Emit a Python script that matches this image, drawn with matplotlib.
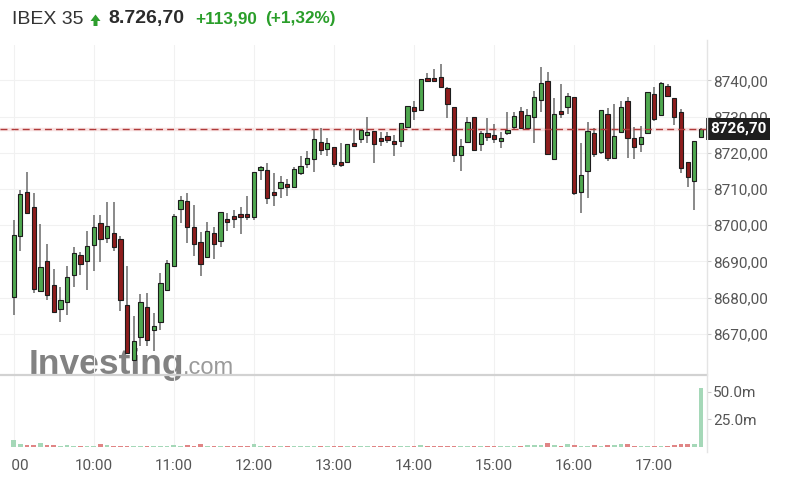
import numpy as np
import matplotlib.pyplot as plt
from matplotlib.lines import Line2D
from matplotlib.patches import Rectangle, Polygon
from matplotlib.transforms import Bbox, TransformedBbox

# IBEX 35 intraday, 5-minute candles 9:00 - 17:35
opens = [8680.1, 8696.9, 8709.1, 8705.0, 8681.9, 8690.1, 8683.6, 8676.9, 8678.7, 8686.1,
         8691.8, 8690.2, 8694.5, 8700.5, 8696.6, 8697.8, 8696.1, 8678.0, 8662.8, 8669.0,
         8677.3, 8671.1, 8673.2, 8682.1, 8688.8, 8704.5, 8706.8, 8699.4, 8695.3, 8691.1,
         8697.8, 8695.5, 8701.6, 8702.6, 8703.2, 8703.2, 8702.4, 8715.2, 8715.3, 8709.3,
         8710.4, 8711.4, 8710.5, 8714.4, 8717.0, 8718.2, 8723.1, 8721.1, 8721.5, 8717.4,
         8717.6, 8722.6, 8723.8, 8724.8, 8725.9, 8724.0, 8724.7, 8723.3, 8723.3, 8727.2,
         8732.6, 8731.8, 8740.6, 8740.6, 8740.9, 8738.0, 8732.6, 8719.4, 8722.9, 8729.8,
         8722.5, 8725.6, 8724.8, 8723.3, 8725.6, 8727.1, 8731.6, 8726.8, 8730.0, 8734.6,
         8739.9, 8718.3, 8731.6, 8732.6, 8735.3, 8709.3, 8715.0, 8725.4, 8720.3, 8730.7,
         8718.7, 8725.7, 8734.3, 8724.0, 8722.4, 8725.4, 8736.2, 8730.5, 8738.6, 8735.1,
         8731.2, 8717.4, 8712.2, 8724.3]
highs = [8701.5, 8709.8, 8714.8, 8709.0, 8700.4, 8694.8, 8687.9, 8682.8, 8688.6, 8694.1,
         8692.7, 8698.4, 8702.9, 8702.9, 8706.3, 8706.3, 8696.9, 8688.6, 8674.9, 8681.0,
         8681.4, 8675.7, 8686.7, 8690.4, 8703.1, 8708.1, 8709.0, 8705.6, 8698.2, 8701.0,
         8699.6, 8703.7, 8703.3, 8704.2, 8704.9, 8708.2, 8714.6, 8716.4, 8717.3, 8714.5,
         8713.6, 8712.7, 8716.2, 8719.2, 8720.6, 8726.5, 8726.8, 8724.0, 8721.5, 8722.6,
         8722.4, 8726.5, 8726.6, 8730.0, 8725.9, 8725.7, 8725.7, 8724.9, 8728.2, 8732.9,
         8734.4, 8740.3, 8742.0, 8743.2, 8744.5, 8738.1, 8732.6, 8723.7, 8729.8, 8729.8,
         8726.0, 8729.7, 8727.9, 8725.7, 8731.4, 8731.4, 8732.6, 8732.0, 8737.2, 8743.6,
         8742.4, 8735.1, 8739.0, 8736.6, 8735.3, 8722.8, 8728.4, 8727.0, 8731.7, 8732.5,
         8733.4, 8734.4, 8735.5, 8727.2, 8727.5, 8736.7, 8738.3, 8739.7, 8738.9, 8735.1,
         8732.1, 8717.4, 8723.3, 8726.8]
lows = [8675.2, 8693.0, 8703.3, 8681.2, 8681.9, 8679.4, 8676.1, 8673.2, 8675.2, 8683.0,
        8686.3, 8682.1, 8687.4, 8689.7, 8695.0, 8693.0, 8676.4, 8664.6, 8662.8, 8666.5,
        8666.7, 8665.1, 8671.1, 8682.1, 8688.4, 8700.5, 8695.0, 8691.6, 8686.0, 8691.1,
        8690.6, 8694.1, 8698.5, 8699.2, 8697.5, 8701.4, 8701.4, 8712.5, 8705.8, 8705.4,
        8707.5, 8708.1, 8710.5, 8713.9, 8715.7, 8714.6, 8719.4, 8719.2, 8716.2, 8716.0,
        8717.6, 8721.7, 8722.6, 8722.6, 8717.1, 8722.0, 8722.6, 8719.2, 8721.7, 8727.2,
        8729.1, 8731.8, 8739.5, 8739.7, 8738.1, 8729.5, 8717.4, 8715.1, 8722.9, 8720.8,
        8720.5, 8723.3, 8722.8, 8721.4, 8724.9, 8726.6, 8726.6, 8726.3, 8722.6, 8731.4,
        8719.6, 8718.3, 8729.5, 8730.7, 8708.4, 8703.3, 8707.4, 8718.8, 8719.6, 8717.8,
        8718.7, 8725.7, 8718.5, 8718.3, 8720.3, 8725.4, 8728.9, 8730.5, 8735.5, 8727.7,
        8714.5, 8710.5, 8704.2, 8724.3]
closes = [8697.3, 8708.6, 8703.5, 8682.4, 8688.4, 8680.6, 8676.1, 8679.4, 8685.6, 8692.3,
          8689.3, 8694.3, 8699.4, 8696.2, 8699.8, 8693.9, 8679.2, 8664.6, 8668.0, 8678.7,
          8668.3, 8672.2, 8684.0, 8689.5, 8702.6, 8707.0, 8699.4, 8694.8, 8689.3, 8698.5,
          8694.8, 8703.7, 8700.8, 8701.7, 8702.4, 8702.4, 8714.6, 8716.0, 8707.6, 8708.4,
          8712.0, 8710.5, 8715.5, 8716.4, 8718.5, 8723.8, 8720.8, 8722.6, 8716.9, 8716.5,
          8722.4, 8721.9, 8726.3, 8725.7, 8722.5, 8723.3, 8723.6, 8722.4, 8728.2, 8732.9,
          8731.6, 8740.3, 8739.8, 8739.8, 8738.1, 8733.4, 8719.4, 8721.8, 8728.4, 8720.8,
          8725.6, 8724.5, 8723.8, 8724.0, 8726.3, 8730.2, 8727.0, 8730.5, 8735.5, 8739.2,
          8719.6, 8730.7, 8730.7, 8735.7, 8708.8, 8713.9, 8726.0, 8719.6, 8731.7, 8718.7,
          8724.7, 8732.6, 8724.2, 8721.7, 8724.3, 8736.7, 8729.4, 8739.2, 8735.7, 8729.8,
          8715.9, 8713.2, 8723.3, 8726.7]
volumes = [6.5, 3.0, 2.0, 2.0, 3.5, 2.0, 1.5, 1.2, 1.5, 1.0,
           0.8, 1.0, 1.0, 2.5, 2.0, 1.0, 0.8, 1.0, 0.8, 0.8,
           0.6, 0.6, 0.8, 1.0, 2.0, 1.2, 1.5, 1.2, 2.5, 0.8,
           0.8, 0.8, 0.6, 0.6, 0.5, 0.6, 3.0, 0.8, 0.8, 0.8,
           0.8, 0.8, 0.8, 0.8, 0.8, 1.0, 0.8, 0.6, 0.6, 0.5,
           0.6, 0.6, 0.6, 0.5, 0.6, 0.5, 0.5, 0.5, 0.6, 0.8,
           0.6, 1.5, 0.6, 0.6, 0.8, 0.8, 1.0, 0.8, 0.6, 0.6,
           0.6, 0.5, 0.6, 0.6, 0.6, 0.8, 1.0, 1.5, 2.0, 2.0,
           3.5, 2.0, 1.0, 2.5, 1.5, 0.8, 1.0, 1.5, 1.0, 1.8,
           1.5, 2.5, 2.5, 1.0, 1.0, 1.0, 0.8, 1.0, 1.0, 2.0,
           2.5, 2.5, 2.5, 53.0]
hour_labels = ["9:00", "10:00", "11:00", "12:00", "13:00", "14:00", "15:00", "16:00", "17:00"]
price_ticks = [8670, 8680, 8690, 8700, 8710, 8720, 8730, 8740]
vol_ticks = [25, 50]
last_price = 8726.70

W, H = 787, 497
fig = plt.figure(figsize=(W / 100, H / 100), dpi=100)

def fx(px):
    return px / W

def fy(py):
    return 1 - py / H

GREEN = '#4fa84f'
RED = '#8e1d1d'
EDGE = '#1c1c1c'
WICK = '#6a6a6a'
LABEL = '#555555'
AXFONT = ['Roboto', 'DejaVu Sans']

# --- watermark (behind the axes) ---
fig.text(fx(29), fy(374), "Investing", fontsize=25.5, fontweight='bold', color='#828282',
         family=['Liberation Sans', 'DejaVu Sans'], va='baseline', zorder=-5)
fig.text(fx(183), fy(374), ".com", fontsize=17, color='#9a9a9a',
         family=['Liberation Sans', 'DejaVu Sans'], va='baseline', zorder=-5)

# --- price panel ---
ax = fig.add_axes([0, fy(375), fx(707), (375 - 45) / H])
ax.patch.set_visible(False)
x = np.arange(len(opens))
o = np.array(opens); c = np.array(closes)
hi = np.array(highs); lo = np.array(lows)
up = c >= o
cols = np.where(up, GREEN, RED)

ax.vlines(x, lo, hi, color=WICK, lw=1.1, zorder=2)
body_bot = np.minimum(o, c)
body_h = np.maximum(np.abs(c - o), 0.7)
ax.bar(x, body_h, bottom=body_bot, width=0.64, color=cols, edgecolor=EDGE,
       linewidth=0.8, zorder=3)

ax.axhline(last_price, color='#b03a3a', lw=1.0, dashes=(5, 3), zorder=4)
ax.axhline(last_price, color='#f2c4c4', lw=2.5, alpha=0.5, zorder=1)

ax.set_xlim(-2.05, 103.9)
ax.set_ylim(8658.6, 8749.8)
ax.set_yticks(price_ticks)
ax.set_yticklabels([f"{v:.2f}".replace('.', ',') for v in price_ticks])
ax.yaxis.tick_right()
ax.tick_params(axis='y', length=3, width=0.8, color='#cccccc', pad=1.5,
               labelsize=11, labelcolor=LABEL)
for lab in ax.get_yticklabels():
    lab.set_family(AXFONT)
hour_pos = np.arange(len(hour_labels)) * 12
ax.set_xticks(hour_pos)
ax.tick_params(axis='x', length=0, labelbottom=False)
ax.grid(True, color='#f1f1f1', lw=0.8, zorder=0)
for s in ax.spines.values():
    s.set_visible(False)

# --- volume panel ---
axv = fig.add_axes([0, fy(447), fx(707), (447 - 375) / H])
axv.patch.set_visible(False)
vcols = np.where(up, '#a5d8b8', '#e08585')
axv.bar(x, volumes, width=0.7, color=vcols, zorder=2)
axv.set_xlim(-2.05, 103.9)
axv.set_ylim(0, 65.2)
axv.set_yticks(vol_ticks)
axv.set_yticklabels([f"{v:.1f}m" for v in vol_ticks])
axv.yaxis.tick_right()
axv.tick_params(axis='y', length=3, width=0.8, color='#cccccc', pad=1.5,
                labelsize=11, labelcolor=LABEL)
axv.set_xticks(hour_pos)
axv.set_xticklabels(hour_labels)
axv.tick_params(axis='x', length=0, pad=9, labelsize=11, labelcolor=LABEL)
for lab in axv.get_yticklabels() + axv.get_xticklabels():
    lab.set_family(AXFONT)
axv.grid(True, axis='x', color='#f1f1f1', lw=0.8, zorder=0)
for s in axv.spines.values():
    s.set_visible(False)

# the reference is cropped on the left: only the "00" of 9:00 shows
first_lab = axv.get_xticklabels()[0]
first_lab.set_clip_box(TransformedBbox(Bbox([[fx(12), 0], [1, 1]]), fig.transFigure))
first_lab.set_clip_on(True)

# panel separator and right border
fig.add_artist(Line2D([0, fx(707)], [fy(375), fy(375)], color='#d2d2d2', lw=1.6))
fig.add_artist(Line2D([fx(707), fx(707)], [fy(40), fy(452)], color='#e4e4e4', lw=1.0))

# last price box
fig.add_artist(Rectangle((fx(706), fy(140)), fx(64), (140 - 118) / H,
                         facecolor='#1e1e1e', edgecolor='none'))
fig.text(fx(738), fy(129), f"{last_price:.2f}".replace('.', ','), color='white',
         fontsize=11, fontweight='bold', family=AXFONT, ha='center', va='center')

# --- header ---
TF = ['Liberation Sans', 'DejaVu Sans']
ty = fy(19)
arrow = [(90.5, 21), (95.5, 14.5), (100.5, 21), (97.5, 21), (97.5, 26),
         (93.5, 26), (93.5, 21)]
fig.add_artist(Polygon([(fx(px), fy(py)) for px, py in arrow], closed=True,
                       facecolor='#2e9e2e', edgecolor='none'))
fig.text(fx(12), ty, "IBEX 35", fontsize=14, color='#333333', family=TF, va='center')
fig.text(fx(108), ty, "8.726,70", fontsize=14, fontweight='bold', color='#2b2b2b', family=TF, va='center')
fig.text(fx(195), ty, "+113,90", fontsize=12.3, fontweight='bold', color='#2a9e2a', family=TF, va='center')
fig.text(fx(265), ty, "(+1,32%)", fontsize=12.3, fontweight='bold', color='#2a9e2a', family=TF, va='center')

fig.savefig("out.png", dpi=100)
